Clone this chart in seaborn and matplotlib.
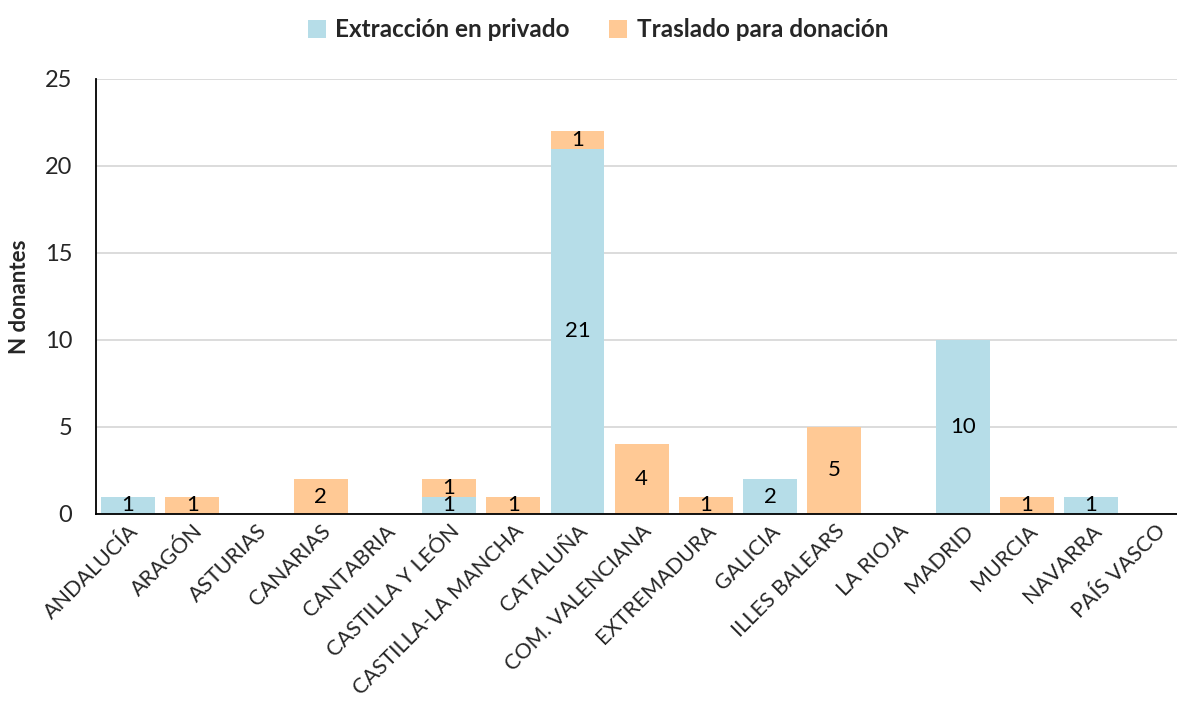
import pandas as pd
import numpy as np
import matplotlib
matplotlib.use("Agg")
import matplotlib.pyplot as plt
import seaborn as sns

# Datos del gráfico
regiones = ["ANDALUCÍA", "ARAGÓN", "ASTURIAS", "CANARIAS", "CANTABRIA",
            "CASTILLA Y LEÓN", "CASTILLA-LA MANCHA", "CATALUÑA",
            "COM. VALENCIANA", "EXTREMADURA", "GALICIA", "ILLES BALEARS",
            "LA RIOJA", "MADRID", "MURCIA", "NAVARRA", "PAÍS VASCO"]
extraccion = [1, 0, 0, 0, 0, 1, 0, 21, 0, 0, 2, 0, 0, 10, 0, 1, 0]
traslado = [0, 1, 0, 2, 0, 1, 1, 1, 4, 1, 0, 5, 0, 0, 1, 0, 0]
y_ticks = [0, 5, 10, 15, 20, 25]

col_ext = "#B6DDE8"
col_tras = "#FFC995"

sns.set_theme(style="white")
plt.rcParams['font.family'] = ['Lato', 'DejaVu Sans']

df = pd.DataFrame({"region": regiones, "ext": extraccion, "tras": traslado})

fig = plt.figure(figsize=(11.77, 7.13), dpi=100)
ax = fig.add_axes([96 / 1177, (713 - 514) / 713, (1177 - 96) / 1177, (514 - 79) / 713])

sns.barplot(data=df, x="region", y="ext", color=col_ext, width=0.84, linewidth=0,
            saturation=1, ax=ax, label="Extracción en privado", zorder=2)
sns.barplot(data=df, x="region", y="tras", color=col_tras, width=0.84, linewidth=0,
            saturation=1, ax=ax, bottom=df["ext"], label="Traslado para donación", zorder=2)

# etiquetas dentro de cada segmento
for i, (e, t) in enumerate(zip(extraccion, traslado)):
    if e > 0:
        ax.text(i, e / 2, str(e), ha="center", va="center", fontsize=16, color="black", zorder=3)
    if t > 0:
        ax.text(i, e + t / 2, str(t), ha="center", va="center", fontsize=16, color="black", zorder=3)

ax.set_ylim(0, 25)
ax.set_yticks(y_ticks)
ax.set_xlim(-0.5, (1177 - 96) / 64.2 - 0.5)
ax.yaxis.grid(True, color="#D9D9D9", linewidth=1.3, zorder=0)
ax.set_axisbelow(True)

for s in ["top", "right"]:
    ax.spines[s].set_visible(False)
ax.spines["left"].set_color("black")
ax.spines["bottom"].set_color("black")
ax.spines["left"].set_linewidth(1.3)
ax.spines["bottom"].set_linewidth(1.3)

ax.tick_params(axis="y", labelsize=17, length=0, pad=17)
ax.tick_params(axis="x", labelsize=15.5, length=0, pad=5)
plt.setp(ax.get_xticklabels(), rotation=45, ha="right", rotation_mode="anchor")

ax.set_xlabel("")
ax.set_ylabel("N donantes", fontsize=16, fontweight="bold")
ax.yaxis.set_label_coords(-0.061, 0.5)

handles, labels = ax.get_legend_handles_labels()
if ax.get_legend() is not None:
    ax.get_legend().remove()
fig.legend(handles, labels, loc="upper center", bbox_to_anchor=(0.508, 1.005), ncol=2,
           frameon=False, prop={"weight": "bold", "size": 17.5}, handlelength=0.75,
           handleheight=0.75, handletextpad=0.4, columnspacing=1.6)

fig.savefig("out.png", dpi=100)
